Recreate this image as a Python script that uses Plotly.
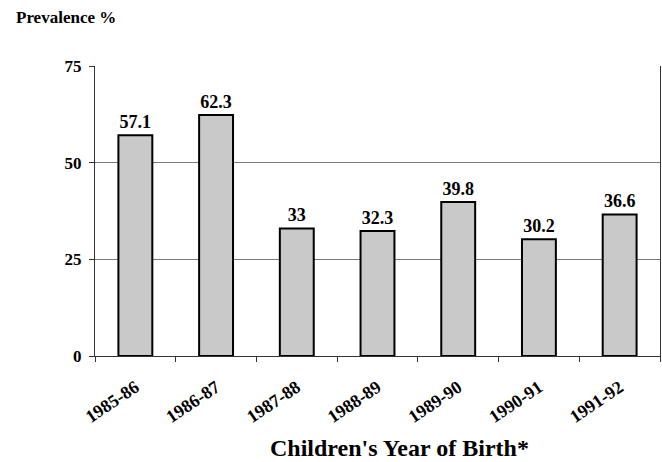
import plotly.graph_objects as go

birth_years = ["1985-86", "1986-87", "1987-88", "1988-89", "1989-90", "1990-91", "1991-92"]
prevalence = [57.1, 62.3, 33, 32.3, 39.8, 30.2, 36.6]
y_ticks = [0, 25, 50, 75]

serif = "Times New Roman, Liberation Serif, serif"

fig = go.Figure(
    go.Bar(
        x=birth_years,
        y=prevalence,
        text=[f"<b>{v:g}</b>" for v in prevalence],
        textposition="outside",
        textfont=dict(family=serif, size=18, color="black"),
        marker=dict(color="#c9c9c9", line=dict(color="black", width=2)),
        cliponaxis=False,
        width=0.42,
    )
)

fig.update_layout(
    width=662,
    height=462,
    margin=dict(l=95, r=2, t=66, b=106),
    paper_bgcolor="white",
    plot_bgcolor="white",
    showlegend=False,
    font=dict(family=serif, color="black"),
    annotations=[
        dict(
            text="<b>Prevalence %</b>",
            xref="paper", yref="paper",
            x=-95 / 565 + 14 / 565, y=1 + 49 / 290,
            xanchor="left", yanchor="middle",
            showarrow=False,
            font=dict(family=serif, size=17, color="black"),
        ),
        dict(
            text="<b>Children's Year of Birth*</b>",
            xref="paper", yref="paper",
            x=(399 - 95) / 565, y=-(448 - 356) / 290,
            xanchor="center", yanchor="middle",
            showarrow=False,
            font=dict(family=serif, size=24, color="black"),
        ),
    ],
)

fig.update_xaxes(
    type="category",
    tickvals=birth_years,
    ticktext=[f"<b>{c}</b>" for c in birth_years],
    showline=True,
    linecolor="#333333",
    linewidth=1,
    ticks="outside",
    tickson="boundaries",
    ticklen=5,
    tickcolor="#333333",
    tickangle=-34,
    ticklabelstandoff=13,
    tickfont=dict(family=serif, size=18, color="black"),
    showgrid=False,
)

fig.update_yaxes(
    range=[0, 75],
    tickvals=y_ticks,
    ticktext=[f"<b>{t}</b>" for t in y_ticks],
    showline=True,
    linecolor="#333333",
    linewidth=1,
    mirror=True,
    ticks="outside",
    ticklen=5,
    tickcolor="#333333",
    ticklabelstandoff=4,
    tickfont=dict(family=serif, size=17, color="black"),
    showgrid=True,
    gridcolor="#7a7a7a",
    gridwidth=1,
    zeroline=False,
)

fig.write_html("out.html")
